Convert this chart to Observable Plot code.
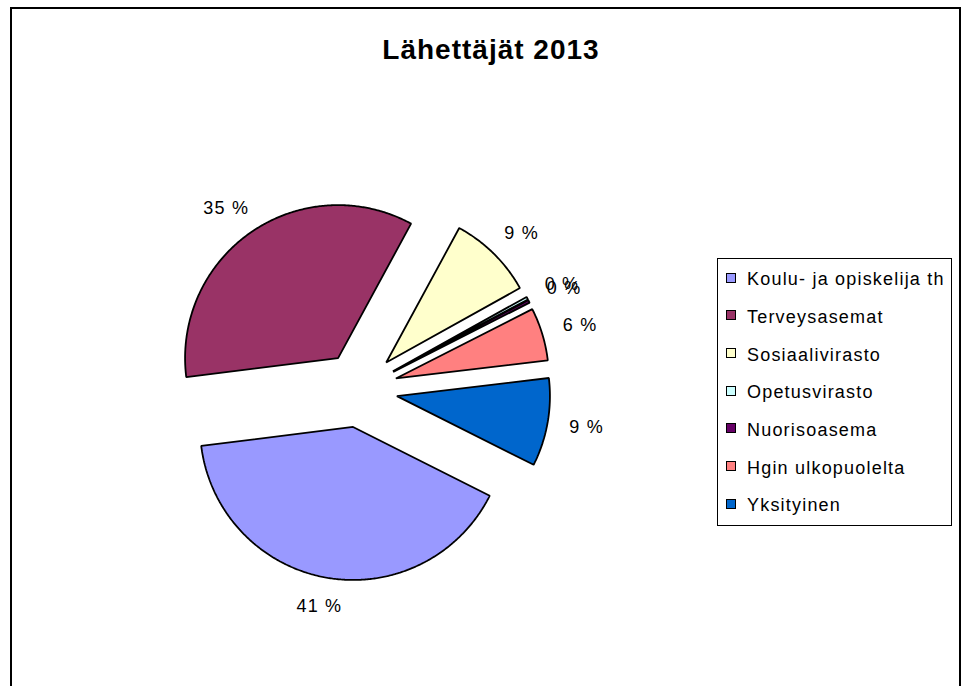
<!DOCTYPE html>
<html>
<head>
<meta charset="utf-8">
<script src="https://cdn.jsdelivr.net/npm/d3@7"></script>
<script src="https://cdn.jsdelivr.net/npm/@observablehq/plot@0.6"></script>
<style>
  html, body { margin: 0; padding: 0; background: #fff; }
  body { font-family: "Liberation Sans", Arial, sans-serif; }
  #wrap { position: relative; width: 966px; height: 686px; overflow: hidden; background: #fff; }
  #frame { position: absolute; left: 10px; top: 7px; width: 947px; height: 720px; border: 2px solid #000; }
  #title { position: absolute; left: 0; top: 36px; width: 982px; text-align: center;
           font-weight: bold; font-size: 28px; line-height: 1; letter-spacing: 1px; color: #000; }
  #chart { position: absolute; left: 0; top: 0; }
  #legend { position: absolute; left: 717px; top: 258px; width: 233px; height: 264px;
            border: 1px solid #000; background: #fff; padding-top: 2px; }
  .row { height: 37.67px; display: flex; align-items: center; font-size: 18px; letter-spacing: 1.2px; color: #000; white-space: nowrap; }
  .sw { width: 10px; height: 10px; box-sizing: border-box; border: 1px solid #000; margin-left: 8px; margin-right: 11px; position: relative; top: -2px; flex: none; }
</style>
</head>
<body>
<div id="wrap">
  <div id="frame"></div>
  <div id="title"></div>
  <div id="chart"></div>
  <div id="legend"></div>
</div>
<script>
// ---- data ----
const categories = ["Koulu- ja opiskelija th", "Terveysasemat", "Sosiaalivirasto", "Opetusvirasto", "Nuorisoasema", "Hgin ulkopuolelta", "Yksityinen"];
const shares = [40.6, 34.9, 9.0, 0.3, 0.3, 5.6, 9.3]; // percent
const colors = ["#9999FF", "#993366", "#FFFFCC", "#CCFFFF", "#660066", "#FF8080", "#0066CC"];
const titleText = "Lähettäjät 2013";

// ---- layout ----
const W = 966, H = 686;
const CX = 359, CY = 389, R = 153;      // pie centre and radius in px
const EXPLODE = 38 / R;                  // explosion distance (radius units)
const LABEL_R = 213 / R;                 // label anchor distance (radius units)
const START = 116.7 * Math.PI / 180;     // first slice angle (clockwise from 12 o'clock)
const CHAR_W = 11.7, LABEL_H = 14;       // approx label box size in px

const data = categories.map((c, i) => ({cat: c, value: shares[i], color: colors[i]}));
const arcs = d3.pie().sort(null).value(d => d.value).startAngle(START).endAngle(START + 2 * Math.PI)(data);

const points = [];
const labels = [];
arcs.forEach(a => {
  const mid = (a.startAngle + a.endAngle) / 2;
  const s = Math.sin(mid), c = Math.cos(mid);
  const ox = EXPLODE * s, oy = EXPLODE * c;
  const cat = a.data.cat;
  points.push({cat, x: ox, y: oy});
  const n = Math.max(2, Math.ceil((a.endAngle - a.startAngle) / (0.5 * Math.PI / 180)));
  for (let k = 0; k <= n; k++) {
    const t = a.startAngle + (a.endAngle - a.startAngle) * k / n;
    points.push({cat, x: ox + Math.sin(t), y: oy + Math.cos(t)});
  }
  const text = Math.round(a.data.value) + " %";
  const w = CHAR_W * text.length;
  labels.push({cat,
    x: LABEL_R * s + (w / 2) * s / R,
    y: LABEL_R * c + (LABEL_H / 2) * c / R,
    text});
});

const plot = Plot.plot({
  width: W, height: H, margin: 0,
  x: {type: "linear", domain: [-CX / R, (W - CX) / R], range: [0, W], axis: null},
  y: {type: "linear", domain: [CY / R, -(H - CY) / R], range: [0, H], axis: null},
  color: {domain: categories, range: colors},
  style: {background: "transparent", fontFamily: "'Liberation Sans', Arial, sans-serif"},
  marks: [
    Plot.line(points, {x: "x", y: "y", z: "cat", fill: "cat", stroke: "#000", strokeWidth: 1.8,
                       curve: "linear-closed", strokeLinejoin: "miter"}),
    Plot.text(labels, {x: "x", y: "y", text: "text", fontSize: 18, fill: "#000",
                       textAnchor: "middle", lineAnchor: "middle"})
  ]
});
plot.querySelectorAll("text").forEach(t => t.setAttribute("letter-spacing", "1.2"));
document.getElementById("chart").appendChild(plot);

const leg = document.getElementById("legend");
categories.forEach((c, i) => {
  const row = document.createElement("div");
  row.className = "row";
  const sw = document.createElement("span");
  sw.className = "sw";
  sw.style.background = colors[i];
  const tx = document.createElement("span");
  tx.textContent = c;
  row.appendChild(sw);
  row.appendChild(tx);
  leg.appendChild(row);
});
document.getElementById("title").textContent = titleText;
</script>
</body>
</html>
